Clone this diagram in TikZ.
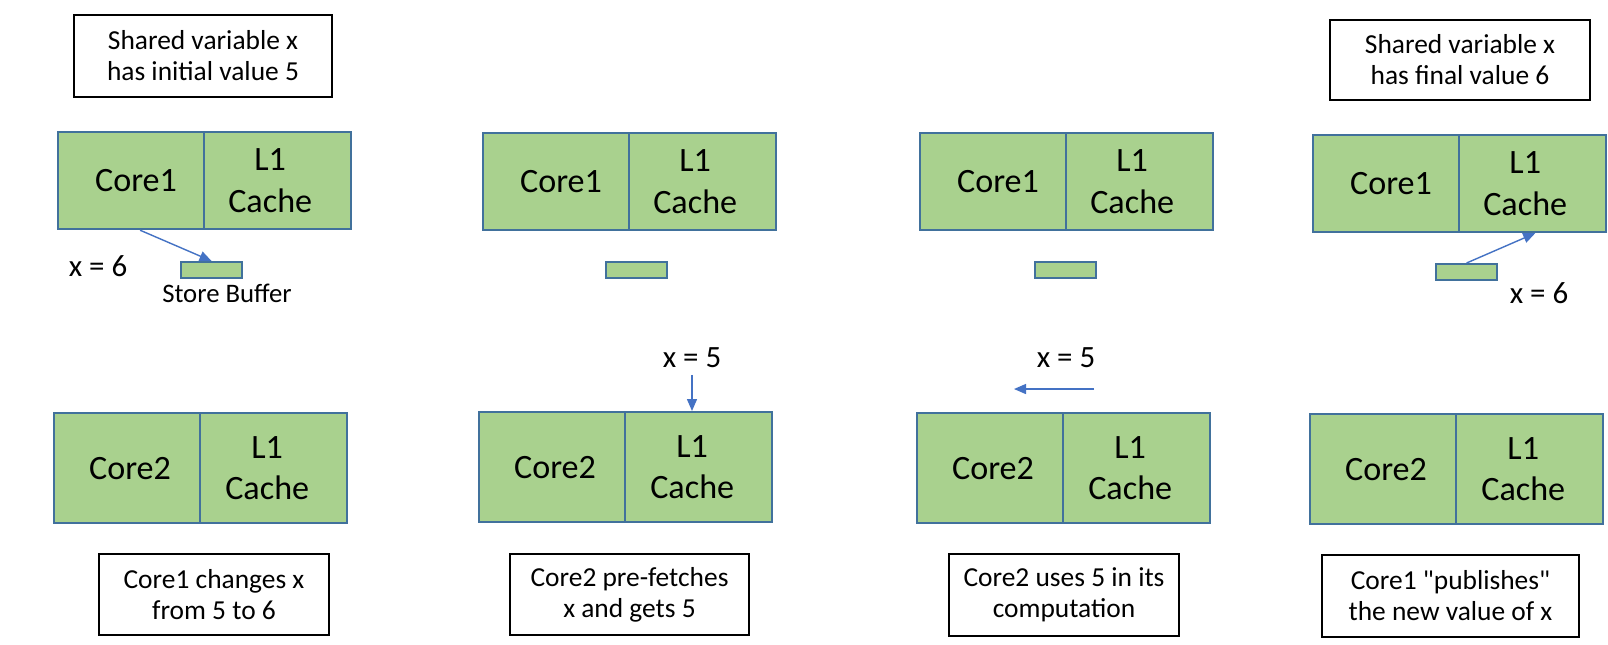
\documentclass[tikz,border=0pt]{standalone}
\usepackage{fontspec}
\setmainfont{Carlito}[Ligatures=TeXOff]
\usetikzlibrary{arrows.meta}
\definecolor{blockgreen}{HTML}{A9D18E}
\definecolor{blockedge}{HTML}{41719C}
\definecolor{arrowblue}{HTML}{4472C4}

\begin{document}
\begin{tikzpicture}[x=0.01cm,y=-0.01cm,
    block/.style={fill=blockgreen,draw=blockedge,line width=0.6pt,inner sep=0pt,
                  anchor=north west,minimum width=2.93cm},
    divider/.style={draw=blockedge,line width=0.35pt},
    big/.style={inner sep=0pt,align=center,font=\fontsize{9.7}{11.7}\selectfont},
    buffer/.style={fill=blockgreen,draw=blockedge,line width=0.6pt,anchor=north west,
                   minimum width=0.61cm,minimum height=0.16cm,inner sep=0pt},
    note/.style={draw,line width=0.6pt,align=center,inner sep=0pt,
                 font=\fontsize{7.8}{8.8}\selectfont},
    val/.style={font=\fontsize{8.8}{10}\selectfont,inner sep=0pt},
    move/.style={arrowblue,line width=0.4pt,-{Triangle[length=1.2mm,width=1mm]}}]
            \fill[white] (0,0) rectangle (1608,644);
            \useasboundingbox (0,0) rectangle (1608,644);
            % the four snapshots: Core1 block, store buffer, Core2 block
            \foreach \i/\ax/\ay/\bx/\by/\sx/\sy in {1/57/131/53/412/180/261, 2/482/132/478/411/605/261,
                                                    3/919/132/916/412/1034/261, 4/1312/134/1309/413/1435/263}{
                \node[block,minimum height=0.97cm] (blk\i) at (\ax,\ay) {};
                \draw[divider] ([xshift=1.47cm]blk\i.north west) -- ([xshift=1.47cm]blk\i.south west);
                \node[big] (cname\i) at ([xshift=0.79cm]blk\i.west) {Core1};
                \node[big] (cache\i) at ([xshift=-0.82cm]blk\i.east) {L1\\Cache};
                \node[block,minimum height=1.10cm] (oblk\i) at (\bx,\by) {};
                \draw[divider] ([xshift=1.47cm]oblk\i.north west) -- ([xshift=1.47cm]oblk\i.south west);
                \node[big] (oname\i) at ([xshift=0.77cm]oblk\i.west) {Core2};
                \node[big] (ocache\i) at ([xshift=-0.81cm]oblk\i.east) {L1\\Cache};
                \node[buffer] (buf\i) at (\sx,\sy) {};
            }
            \node[note,minimum width=2.58cm,minimum height=0.82cm] (init) at (203,56) {Shared variable x\\has initial value 5};
            \node[note,minimum width=2.60cm,minimum height=0.80cm] (final) at (1460,60) {Shared variable x\\has final value 6};
            \node[note,minimum width=2.30cm,minimum height=0.81cm] (say1) at (214,594.5) {Core1 changes x\\from 5 to 6};
            \node[note,minimum width=2.39cm,minimum height=0.81cm] (say2) at (629.5,594.5) {Core2 pre-fetches\\x and gets 5};
            \node[note,minimum width=2.30cm,minimum height=0.82cm] (say3) at (1064,595) {Core2 uses 5 in its\\computation};
            \node[note,minimum width=2.57cm,minimum height=0.82cm] (say4) at (1450.5,596) {Core1 "publishes"\\the new value of x};
            % values on the move
            \node[val] (x6a) at (98,266) {x = 6};
            \node[font=\fontsize{7.6}{9}\selectfont,inner sep=0pt] (sblabel) at (227,293) {Store Buffer};
            \node[val] (x5a) at (692,358) {x = 5};
            \node[val] (x5b) at (1066,358) {x = 5};
            \node[val] (x6b) at (1539,293) {x = 6};
            \coordinate (w1) at ([xshift=0.83cm]blk1.south west);
            \draw[move] (w1) -- (buf1.north);
            \draw[move,shorten <=0.6mm] (x5a) -- (x5a |- oblk2.north);
            \coordinate (h3a) at (1094,389);
            \coordinate (h3b) at (1014,389);
            \draw[move] (h3a) -- (h3b);
            \coordinate (w4) at ([xshift=-0.72cm]blk4.south east);
            \draw[move] (buf4.north) -- (w4);
        \end{tikzpicture}
\end{document}
